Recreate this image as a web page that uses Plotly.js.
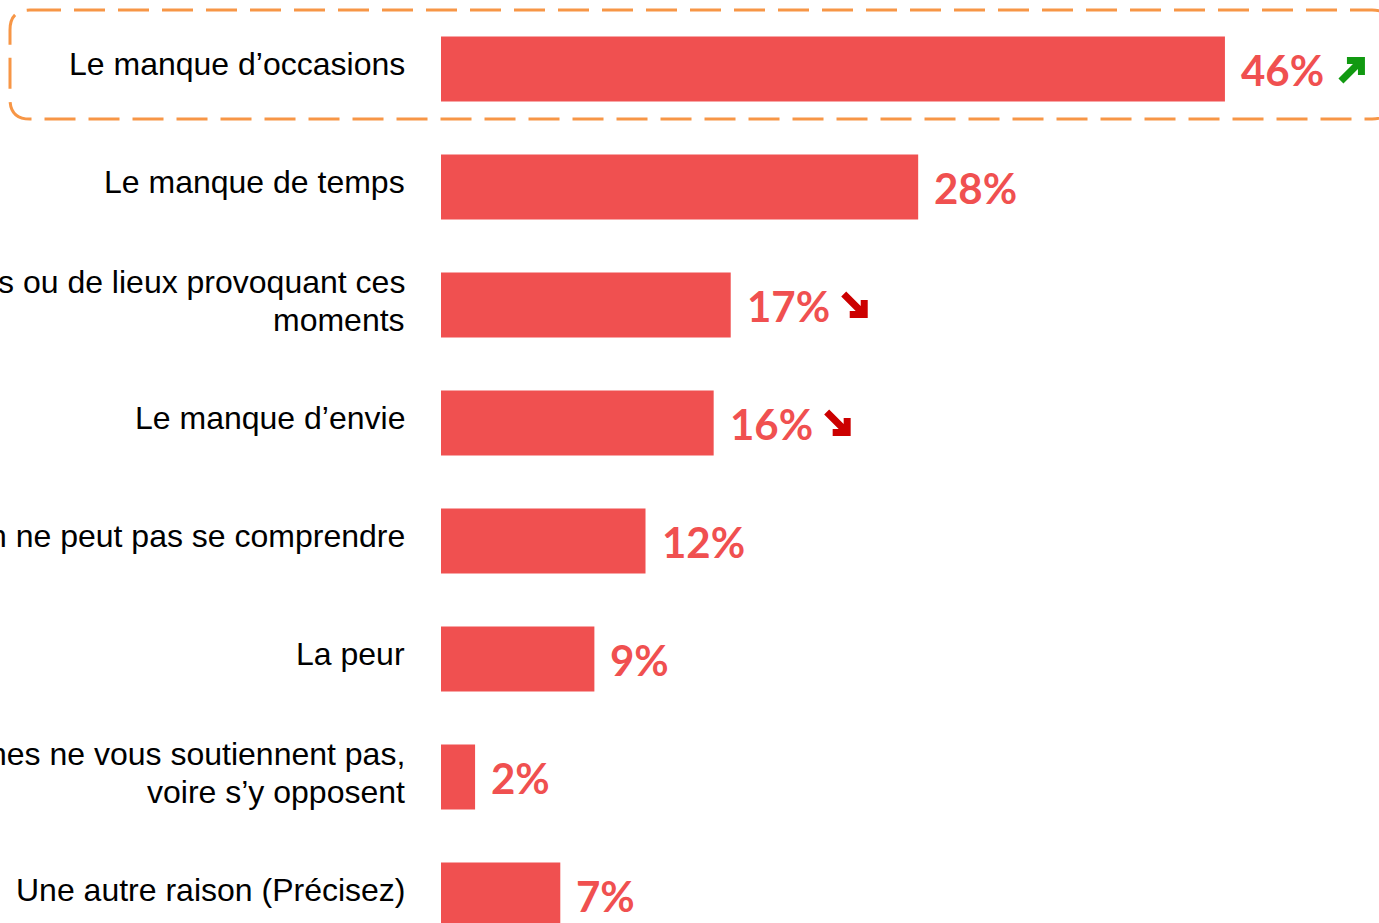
<!DOCTYPE html>
<html>
<head>
<meta charset="utf-8">
<script src="https://cdn.plot.ly/plotly-3.0.1.min.js"></script>
<style>html,body{margin:0;padding:0;background:#fff;}#chart{width:1379px;height:923px;}</style>
</head>
<body>
<div id="chart"></div>
<script>
var categories = [
  "Le manque d\u2019occasions",
  "Le manque de temps",
  "s ou de lieux provoquant ces<br>moments",
  "Le manque d\u2019envie",
  "n ne peut pas se comprendre",
  "La peur",
  "nes ne vous soutiennent pas,<br>voire s\u2019y opposent",
  "Une autre raison (Pr\u00e9cisez)"
];
var values = [46, 28, 17, 16, 12, 9, 2, 7];
var trends = ["up", "", "down", "down", "", "", "", ""];

var barColor = "#F05050";

// category labels (one annotation per line)
var catAnn = [];
categories.forEach(function (c, i) {
  var lines = c.split("<br>");
  var n = lines.length;
  lines.forEach(function (ln, k) {
    var off = (n === 1) ? 5 : (k === 0 ? 23 : -15);
    catAnn.push({
      xref: "paper", x: 0, yref: "y", y: c,
      text: ln, showarrow: false, xanchor: "right", yanchor: "middle",
      xshift: -34, yshift: off,
      font: {family: "Liberation Sans", size: 32, color: "#000"}
    });
  });
});

var labelAnn = values.map(function (v, i) {
  return {
    x: v, y: categories[i], xref: "x", yref: "y",
    text: "<b>" + v + "%</b>", showarrow: false,
    xanchor: "left", yanchor: "middle", xshift: 14, yshift: -1,
    font: {family: "Lato", size: 42, color: barColor}
  };
});

// arrow glyph outline (27px box, y up), pointing north-east
var arrowGlyph = [[27,27],[9,27],[9,20],[15,20],[0.5,5.5],[5.5,0.5],[20,15],[20,9],[27,9]];
function glyphPath(up, dx, dy) {
  return arrowGlyph.map(function (p, k) {
    var x = p[0] + dx, y = (up ? p[1] : 27 - p[1]) + dy;
    return (k === 0 ? "M " : "L ") + x + " " + y;
  }).join(" ") + " Z";
}
var arrowShapes = [];
trends.forEach(function (t, i) {
  if (!t) return;
  var up = t === "up";
  arrowShapes.push({
    type: "path", xref: "x", yref: "y",
    xsizemode: "pixel", ysizemode: "pixel",
    xanchor: values[i], yanchor: categories[i],
    path: glyphPath(up, up ? 113 : 110, up ? -15 : -13),
    fillcolor: up ? "#119911" : "#CC0000", line: {width: 0}
  });
});

// dashed rounded frame around the first row (pixels from plot top-left)
var L = -431, R = 951, T = -10, B = -119, r = 20;
var framePath = "M " + (L + r) + " " + T + " L " + (R - r) + " " + T +
  " Q " + R + " " + T + " " + R + " " + (T - r) +
  " L " + R + " " + (B + r) + " Q " + R + " " + B + " " + (R - r) + " " + B +
  " L " + (L + r) + " " + B + " Q " + L + " " + B + " " + L + " " + (B + r) +
  " L " + L + " " + (T - r) + " Q " + L + " " + T + " " + (L + r) + " " + T + " Z";

var data = [{
  type: "bar", orientation: "h",
  x: values, y: categories,
  marker: {color: barColor},
  width: 0.55, hoverinfo: "skip"
}];

var layout = {
  width: 1379, height: 923,
  margin: {l: 441, r: 0, t: 0, b: 0, pad: 0},
  paper_bgcolor: "#fff", plot_bgcolor: "#fff",
  showlegend: false,
  xaxis: {range: [0, 55.04], visible: false, fixedrange: true},
  yaxis: {
    type: "category", range: [7.237, -0.585],
    showgrid: false, zeroline: false, showline: false,
    ticks: "", showticklabels: false,
    automargin: false, fixedrange: true
  },
  shapes: [{
    type: "path", xref: "paper", yref: "paper",
    xsizemode: "pixel", ysizemode: "pixel", xanchor: 0, yanchor: 1,
    path: framePath,
    line: {color: "#F79646", width: 3, dash: "31px,13px"},
    fillcolor: "rgba(0,0,0,0)", layer: "above"
  }].concat(arrowShapes),
  annotations: catAnn.concat(labelAnn)
};

Plotly.newPlot("chart", data, layout, {displayModeBar: false, staticPlot: true});
</script>
</body>
</html>
